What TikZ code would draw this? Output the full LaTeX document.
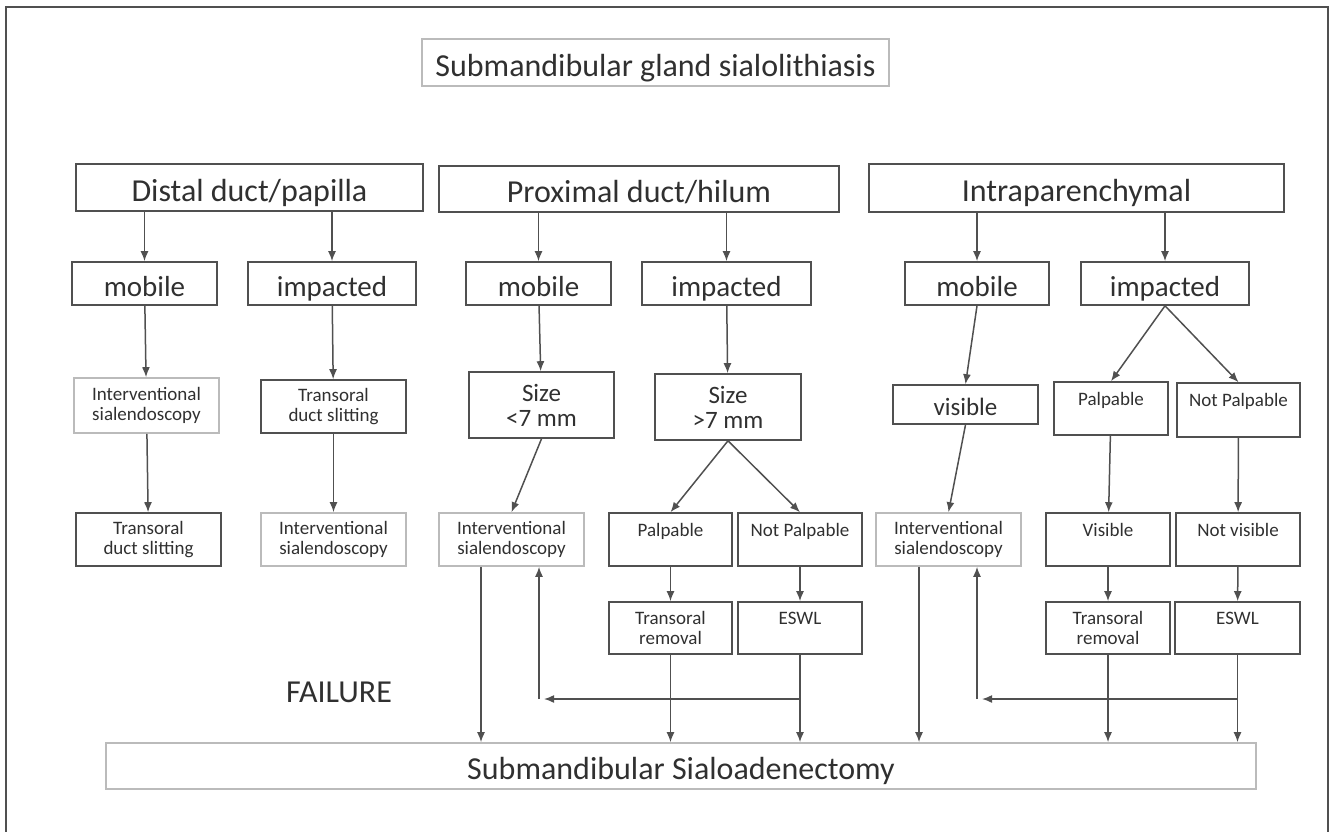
\documentclass[tikz,border=0pt]{standalone}
\usepackage{fontspec}
\setmainfont{Carlito}
\usepackage{tikz}
\usetikzlibrary{positioning}
\usetikzlibrary{calc,arrows.meta}

\definecolor{inkgray}{HTML}{303030}
\definecolor{edgegray}{HTML}{505050}
\definecolor{palegray}{HTML}{BBBBBB}

\tikzset{
  box/.style={draw=edgegray, line width=1.6pt, text=inkgray, inner sep=0pt, align=center},
  palebox/.style={box, draw=palegray},
  huge/.style={font=\fontsize{32}{34}\selectfont, text height=32pt, text depth=4.5pt},
  large/.style={font=\fontsize{29}{31}\selectfont, text height=29pt, text depth=4pt},
  medium/.style={font=\fontsize{25}{25}\selectfont},
  mediumline/.style={medium, text height=25pt, text depth=3.5pt},
  tiny/.style={font=\fontsize{19}{20}\selectfont},
  arr/.style={-{Latex[length=10pt, width=8pt]}, draw=edgegray, line width=1.5pt},
}

\begin{document}
\begin{tikzpicture}[x=1pt, y=-1pt]
      \useasboundingbox (0,0) rectangle (1330,832);
      \draw[edgegray, line width=1.6pt] (6,840) -- (6,7) -- (1328,7) -- (1328,840);

      % top
      \node(title) [palebox, huge, minimum width=467pt, minimum height=47pt] at (655.5,62.5) {Submandibular gland sialolithiasis};

      \node(distal) [box, huge, minimum width=347pt, minimum height=47pt] at (249.5,187.5) {Distal duct/papilla};
      \node(prox) [box, huge, minimum width=400pt, minimum height=46pt] at (639,189) {Proximal duct/hilum};
      \node(intra) [box, huge, minimum width=415pt, minimum height=48pt] at (1076.5,188) {Intraparenchymal};

      % mobile / impacted
      \node(dmob) [box, large, minimum width=145pt, minimum height=43pt] at (144.5,283.5) {mobile};
      \node(dimp) [box, large, minimum width=168pt, minimum height=43pt] at (332,283.5) {impacted};
      \node(pmob) [box, large, minimum width=145pt, minimum height=43pt] at (538.5,283.5) {mobile};
      \node(pimp) [box, large, minimum width=169pt, minimum height=43pt] at (726.5,283.5) {impacted};
      \node(imob) [box, large, minimum width=144pt, minimum height=43pt] at (977,283.5) {mobile};
      \node(iimp) [box, large, minimum width=168pt, minimum height=43pt] at (1165,283.5) {impacted};

      % third row
      \node(dsia) [palebox, tiny, minimum width=145pt, minimum height=55pt] at (146.5,405.5) {Interventional\\sialendoscopy};
      \node(dtra) [box, tiny, minimum width=145pt, minimum height=53pt] at (333.5,406.5) {Transoral\\duct slitting};
      \node(psmall) [box, medium, minimum width=145pt, minimum height=66pt] at (541.5,405) {Size\\<7 mm};
      \node(plarge) [box, medium, minimum width=146pt, minimum height=66pt] at (728,407) {Size\\>7 mm};
      \node(ivis) [box, mediumline, minimum width=145pt, minimum height=39pt] at (965.5,404.5) {visible};
      \node(ipalp) [box, tiny, minimum width=114pt, minimum height=53pt] at (1111,408.5) {Palpable\\~};
      \node(inpalp) [box, tiny, minimum width=123pt, minimum height=54pt] at (1238.5,410) {Not Palpable\\~};

      % fourth row
      \node(dtra2) [box, tiny, minimum width=145pt, minimum height=53pt] at (148.5,539.5) {Transoral\\duct slitting};
      \node(dsia2) [palebox, tiny, minimum width=145pt, minimum height=53pt] at (333.5,539.5) {Interventional\\sialendoscopy};
      \node(psia) [palebox, tiny, minimum width=145pt, minimum height=53pt] at (511.5,539.5) {Interventional\\sialendoscopy};
      \node(ppalp) [box, tiny, minimum width=123pt, minimum height=53pt] at (670.5,539.5) {Palpable\\~};
      \node(pnpalp) [box, tiny, minimum width=124pt, minimum height=53pt] at (800,539.5) {Not Palpable\\~};
      \node(isia) [palebox, tiny, minimum width=145pt, minimum height=53pt] at (948.5,539.5) {Interventional\\sialendoscopy};
      \node(ivisb) [box, tiny, minimum width=124pt, minimum height=53pt] at (1108,539.5) {Visible\\~};
      \node(invis) [box, tiny, minimum width=124pt, minimum height=53pt] at (1238,539.5) {Not visible\\~};

      % fifth row
      \node(ptrans) [box, tiny, minimum width=123pt, minimum height=52pt] at (670.5,628) {Transoral\\removal};
      \node(peswl) [box, tiny, minimum width=124pt, minimum height=52pt] at (800,628) {ESWL\\~};
      \node(itrans) [box, tiny, minimum width=124pt, minimum height=52pt] at (1108,628) {Transoral\\removal};
      \node(ieswl) [box, tiny, minimum width=125pt, minimum height=52pt] at (1237.5,628) {ESWL\\~};

      \node(fail) [text=inkgray, huge, inner sep=0pt] at (339,689) {FAILURE};
      \node(gland) [palebox, huge, minimum width=1150pt, minimum height=46pt] at (681,766) {Submandibular Sialoadenectomy};

      \coordinate(pcorner) at (539,699);
      \coordinate(icorner) at (977,699);

      \draw[arr] (dmob |- distal.south) -- (dmob.north);
      \draw[arr] (dimp |- distal.south) -- (dimp.north);
      \draw[arr] (pmob |- prox.south) -- (pmob.north);
      \draw[arr] (pimp |- prox.south) -- (pimp.north);
      \draw[arr] (imob |- intra.south) -- (imob.north);
      \draw[arr] (iimp |- intra.south) -- (iimp.north);

      \draw[arr] (dmob) -- (dsia);
      \draw[arr] (dsia) -- (dtra2);
      \draw[arr] (dimp) -- (dtra);
      \draw[arr] (dtra) -- (dsia2);
      \draw[arr] (pmob) -- (psmall);
      \draw[arr] (psmall.south) -- (psia.north);
      \draw[arr] (pimp) -- (plarge);
      \draw[arr] (plarge.south) -- (ppalp.north);
      \draw[arr] (plarge.south) -- (pnpalp.north);
      \draw[arr] (ppalp) -- (ptrans);
      \draw[arr] (pnpalp) -- (peswl);
      \draw[arr] (imob.south) -- (ivis.north);
      \draw[arr] (ivis.south) -- (isia.north);
      \draw[arr] (iimp.south) -- (ipalp.north);
      \draw[arr] (iimp.south) -- (inpalp.north);
      \draw[arr] (ipalp) -- (ivisb);
      \draw[arr] (inpalp) -- (invis);
      \draw[arr] (ivisb) -- (itrans);
      \draw[arr] (invis) -- (ieswl);

      \draw[arr] ([xshift=-30.5pt]psia.south) -- ([xshift=-30.5pt]psia.south |- gland.north);
      \draw[arr] (ptrans.south) -- (ptrans.south |- gland.north);
      \draw[arr] (peswl.south) -- (peswl.south |- gland.north);
      \draw[arr] ([xshift=-29.5pt]isia.south) -- ([xshift=-29.5pt]isia.south |- gland.north);
      \draw[arr] (itrans.south) -- (itrans.south |- gland.north);
      \draw[arr] (ieswl.south) -- (ieswl.south |- gland.north);

      \draw[arr] (peswl |- pcorner) -- ([xshift=5pt]pcorner);
      \draw[arr] (pcorner) -- (pcorner |- psia.south);
      \draw[arr] (ieswl |- icorner) -- ([xshift=5pt]icorner);
      \draw[arr] (icorner) -- (icorner |- isia.south);
    \end{tikzpicture}
\end{document}
